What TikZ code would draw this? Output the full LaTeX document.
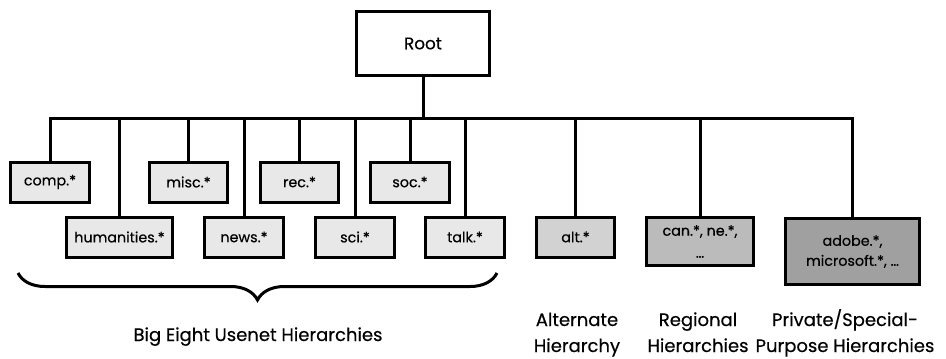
\documentclass[tikz,border=0pt]{standalone}
\usepackage{fontspec}
\setmainfont{Poppins}[FakeBold=0.4]
\usetikzlibrary{decorations.pathreplacing}
\definecolor{lightfill}{HTML}{E8E8E8}
\definecolor{altfill}{HTML}{D2D2D2}
\definecolor{regfill}{HTML}{BBBBBB}
\definecolor{privfill}{HTML}{A0A0A0}
\tikzset{
  box/.style={draw=black, line width=3pt, fill=lightfill, inner sep=0pt,
    minimum height=40pt, font=\fontsize{14.3}{20}\selectfont, align=center},
  conn/.style={line width=3pt, line cap=butt},
  caption/.style={font=\fontsize{18}{26}\selectfont, align=center, inner sep=0pt, anchor=base}
}
\begin{document}
\begin{tikzpicture}[x=1pt,y=-1pt]
\useasboundingbox (0,0) rectangle (946,359);
\node[box, fill=white, minimum width=133pt, minimum height=64pt, font=\fontsize{16.8}{20}\selectfont] (root) at (423,43.5) {Root};
\node[box, minimum width=79pt] (comp) at (50,182) {comp.*};
\node[box, minimum width=78pt] (misc) at (188.5,182) {misc.*};
\node[box, minimum width=78pt] (rec) at (299.5,182) {rec.*};
\node[box, minimum width=79pt] (soc) at (410,182) {soc.*};
\node[box, minimum width=106pt] (hum) at (119.5,237) {humanities.*};
\node[box, minimum width=79pt] (news) at (244,237) {news.*};
\node[box, minimum width=79pt] (sci) at (355,237) {sci.*};
\node[box, minimum width=79pt] (talk) at (465,237) {talk.*};
\node[box, fill=altfill, minimum width=78pt] (alt) at (575.5,237) {alt.*};
\node[box, fill=regfill, minimum width=107pt, minimum height=48pt] (reg) at (700,241.5) {can.*, ne.*,\\[2pt]\dots};
\node[box, fill=privfill, minimum width=134pt, minimum height=66pt] (priv) at (852.5,251.5) {adobe.*,\\microsoft.*, \dots};
\coordinate (bus) at (0,118);
\draw[conn, line join=miter] (comp.north) -- (comp.north |- bus) -- (priv.north |- bus) -- (priv.north);
\draw[conn] (root.south) -- (root.south |- bus);
\foreach \n in {hum,misc,news,rec,sci,soc,talk,alt,reg}
  \draw[conn] (\n.north) -- (\n.north |- bus);
\coordinate (brL) at (18,273);
\coordinate (brR) at (497,273);
\draw[line width=3pt, decorate, decoration={brace, mirror, amplitude=27pt}] (brL) -- (brR);
\node[caption] (bigeight) at (258,341) {Big Eight Usenet Hierarchies};
\node[caption] (altlab) at (577,352) {Alternate\\Hierarchy};
\node[caption] (reglab) at (698,352) {Regional\\Hierarchies};
\node[caption] (privlab) at (845,352) {Private/Special-\\Purpose Hierarchies};
\end{tikzpicture}
\end{document}
